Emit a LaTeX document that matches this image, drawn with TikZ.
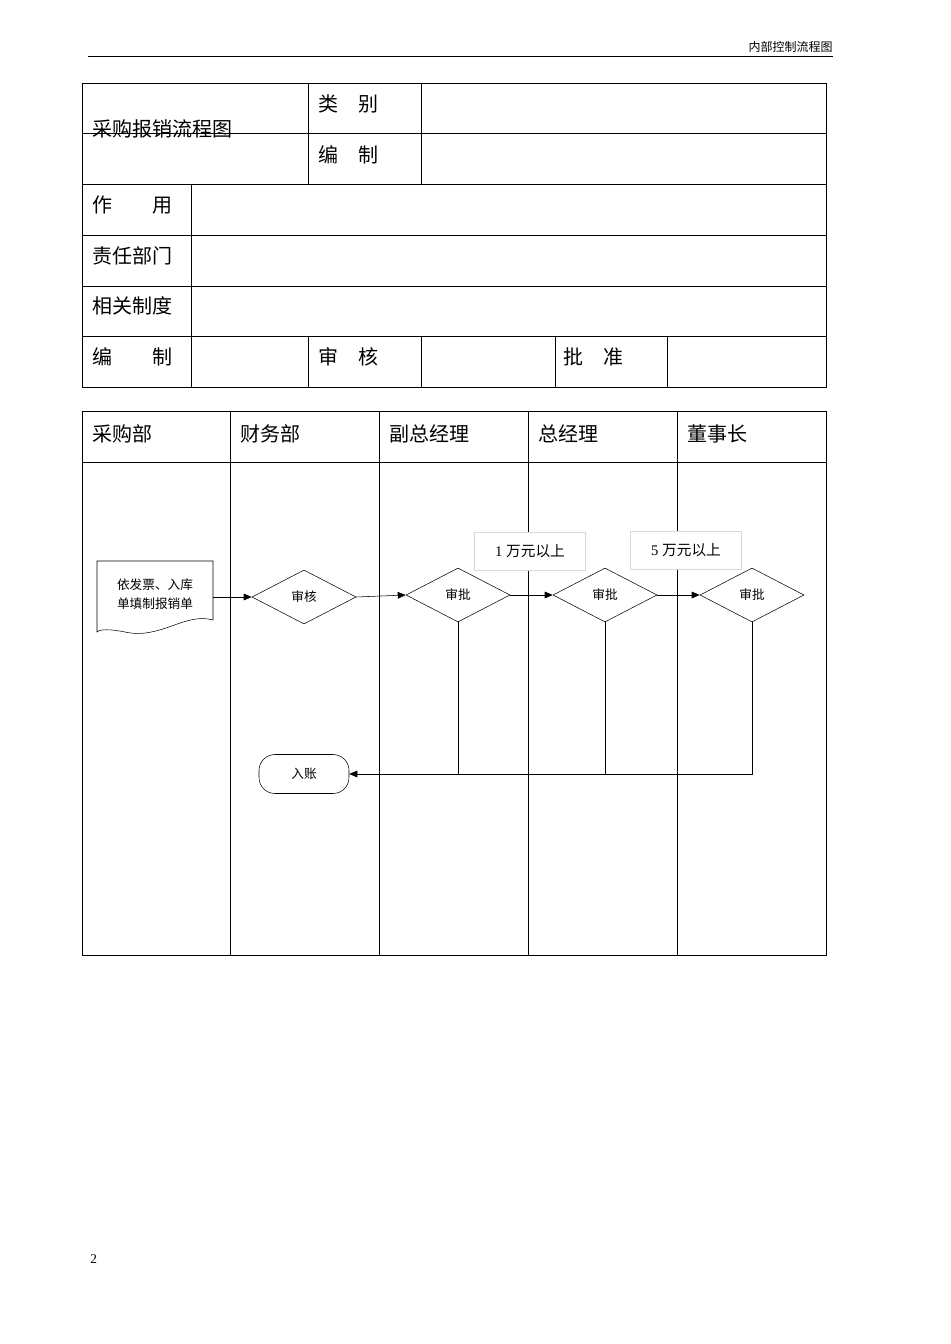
\documentclass[tikz,border=0pt]{standalone}
\usepackage{fontspec}
\setmainfont{Liberation Serif}
\newfontfamily\cjk{Noto Sans CJK SC}
\usetikzlibrary{shapes.geometric,arrows.meta}
\begin{document}
\begin{tikzpicture}[x=0.75pt,y=-0.75pt,
 big/.style={anchor=west,font=\cjk\fontsize{15}{15}\selectfont,inner sep=0},
 sm/.style={font=\cjk\fontsize{9.5}{10}\selectfont},
 dia/.style={draw,diamond,aspect=1.93,minimum width=104*0.75pt,minimum height=54*0.75pt,inner sep=0,sm},
 arr/.style={-{Triangle[length=6pt,width=5pt]}},
 lbl/.style={draw=black!15,minimum width=111*0.75pt,minimum height=38*0.75pt,font=\fontsize{11}{12}\selectfont,inner sep=0}]
\useasboundingbox (0,0) rectangle (950,1344);
\draw (88,56) -- (833,56);
\node[anchor=south east,inner sep=0,font=\cjk\fontsize{9}{10}\selectfont] (hdr) at (833,53) {内部控制流程图};
% table 1
\draw (82,83) rectangle (826,387);
\foreach \y in {133,184,235,286,336} \draw (82,\y) -- (826,\y);
\draw (308,83) -- (308,184) (421,83) -- (421,184);
\draw (308,133) -- (826,133);
\draw (191,184) -- (191,387);
\foreach \x in {308,421,555,667} \draw (\x,336) -- (\x,387);
\node[big] (t1) at (92,129) {采购报销流程图};
\node[big] (t2) at (318,104) {类\quad 别};
\node[big] (t3) at (318,155) {编\quad 制};
\node[big] (t4) at (92,205) {作\qquad 用};
\node[big] (t5) at (92,256) {责任部门};
\node[big] (t6) at (92,306) {相关制度};
\node[big] (t7) at (92,357) {编\qquad 制};
\node[big] (t8) at (318,357) {审\quad 核};
\node[big] (t9) at (563,357) {批\quad 准};
% table 2
\draw (82,411) rectangle (826,955);
\draw (82,462) -- (826,462);
\foreach \x in {230,379,528,677} \draw (\x,411) -- (\x,955);
\node[big] (h1) at (92,434) {采购部};
\node[big] (h2) at (240,434) {财务部};
\node[big] (h3) at (389,434) {副总经理};
\node[big] (h4) at (538,434) {总经理};
\node[big] (h5) at (687,434) {董事长};
% flow
\draw (97,561) -- (213,561) -- (213,620) .. controls (185,612) and (160,640) .. (125,632) .. controls (110,629) and (100,629) .. (97,632) -- cycle;
\node[sm,align=center] (doc) at (155,594) {依发票、入库\\[4pt]单填制报销单};
\coordinate (docR) at (213,597);
\node[dia] (d1) at (304,597) {审核};
\node[dia] (d2) at (458,595) {审批};
\node[dia] (d3) at (605,595) {审批};
\node[dia] (d4) at (752,595) {审批};
\node[lbl,fill=white] (l1) at (530,551) {1 {\cjk 万元以上}};
\node[lbl,fill=white] (l2) at (686,550) {5 {\cjk 万元以上}};
\node[draw,rounded corners=12pt,minimum width=90*0.75pt,minimum height=39*0.75pt,sm] (rz) at (304,774) {入账};
\draw[arr] (docR) -- (d1.west);
\draw[arr] (d1.east) -- (d2.west);
\draw[arr] (d2.east) -- (d3.west);
\draw[arr] (d3.east) -- (d4.west);
\draw[arr] (d4.south) |- (rz.east);
\draw (d2.south) -- (d2.south |- rz.east);
\draw (d3.south) -- (d3.south |- rz.east);
\node[anchor=west,inner sep=0,font=\fontsize{10}{10}\selectfont] (pg) at (90,1259) {2};
\end{tikzpicture}
\end{document}
